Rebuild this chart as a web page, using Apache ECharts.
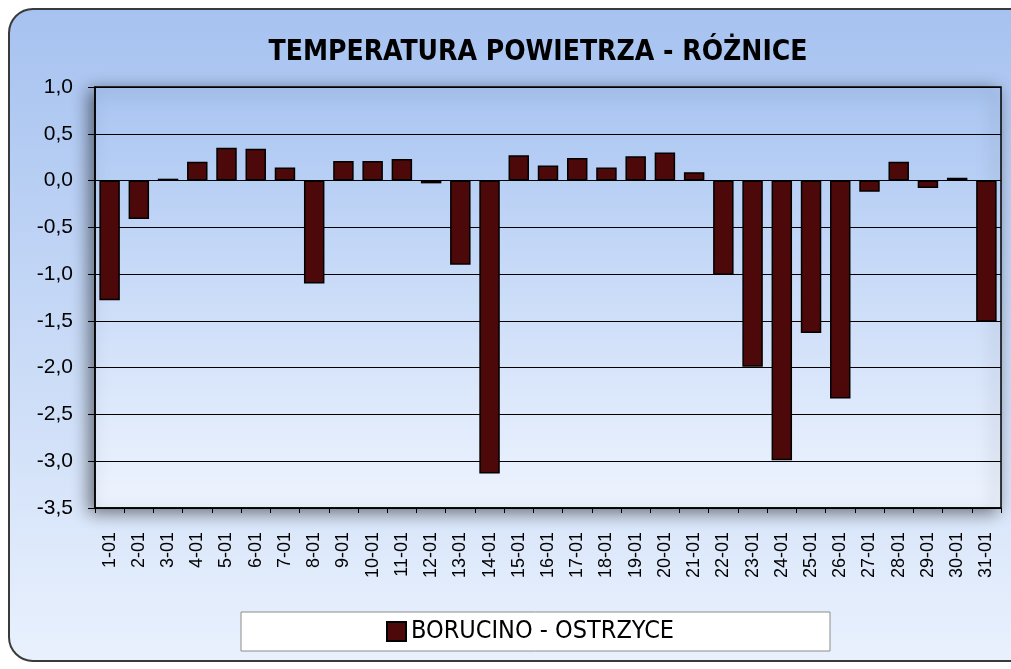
<!DOCTYPE html>
<html>
<head>
<meta charset="utf-8">
<script src="https://cdn.jsdelivr.net/npm/echarts@6/dist/echarts.min.js"></script>
<style>
  html, body { margin: 0; padding: 0; background: #fff; }
  #chart { width: 1011px; height: 669px; }
</style>
</head>
<body>
<div id="chart"></div>
<script>
// dni stycznia
var days = ['1-01', '2-01', '3-01', '4-01', '5-01', '6-01', '7-01', '8-01', '9-01', '10-01',
  '11-01', '12-01', '13-01', '14-01', '15-01', '16-01', '17-01', '18-01', '19-01', '20-01',
  '21-01', '22-01', '23-01', '24-01', '25-01', '26-01', '27-01', '28-01', '29-01', '30-01', '31-01']
// różnica temperatur Borucino - Ostrzyce
var diffs = [-1.28, -0.41, 0.02, 0.20, 0.35, 0.34, 0.14, -1.10, 0.21, 0.21,
  0.23, -0.03, -0.90, -3.13, 0.27, 0.16, 0.24, 0.14, 0.26, 0.30,
  0.09, -1.01, -1.99, -2.99, -1.63, -2.33, -0.12, 0.20, -0.08, 0.03, -1.51]
var seriesName = 'BORUCINO - OSTRZYCE'
var narrow = '"DejaVu Sans Condensed", "Liberation Sans Narrow", "Liberation Sans", Arial'

var chart = echarts.init(document.getElementById('chart'))
var option = {
  animation: false,
  graphic: [
    { // tło całego wykresu
      type: 'rect',
      z: -10,
      shape: { x: 9, y: 9, width: 1030, height: 652, r: 24 },
      style: {
        fill: new echarts.graphic.LinearGradient(0, 0, 0, 1, [
          { offset: 0, color: '#a6c2f0' },
          { offset: 1, color: '#e9f1fd' }
        ]),
        stroke: '#3a3a3a',
        lineWidth: 2
      }
    },
    { // ramka legendy
      type: 'rect',
      z: -5,
      shape: { x: 241, y: 612, width: 589, height: 39 },
      style: { fill: '#ffffff', stroke: '#8c8c8c', lineWidth: 1 }
    }
  ],
  title: {
    text: 'TEMPERATURA POWIETRZA - RÓŻNICE',
    left: 533,
    textAlign: 'center',
    top: 34,
    textStyle: {
      fontFamily: narrow,
      fontWeight: 'bold',
      fontSize: 28,
      color: '#000'
    }
  },
  legend: {
    data: [seriesName],
    left: 386,
    top: 619,
    padding: 0,
    icon: 'rect',
    itemWidth: 19,
    itemHeight: 19,
    itemGap: 8,
    textStyle: {
      fontFamily: narrow,
      fontSize: 25,
      color: '#000'
    }
  },
  grid: {
    left: 95,
    top: 87,
    width: 906,
    height: 421,
    show: true,
    borderColor: '#000',
    borderWidth: 1.5,
    backgroundColor: new echarts.graphic.LinearGradient(0, 0, 0, 1, [
      { offset: 0, color: '#a9c5f2' },
      { offset: 1, color: '#eef4fe' }
    ]),
    shadowColor: 'rgba(0,0,0,0.5)',
    shadowBlur: 16,
    shadowOffsetX: -5,
    shadowOffsetY: 4
  },
  xAxis: {
    type: 'category',
    data: days,
    position: 'bottom',
    axisLine: { onZero: false, lineStyle: { color: '#000', width: 1.5 } },
    axisTick: { show: true, length: 5, lineStyle: { color: '#000' } },
    axisLabel: {
      rotate: 90,
      interval: 0,
      margin: 24,
      color: '#000',
      fontFamily: 'Liberation Sans, Arial',
      fontSize: 18
    }
  },
  yAxis: {
    type: 'value',
    min: -3.5,
    max: 1,
    interval: 0.5,
    axisLine: { show: true, lineStyle: { color: '#000', width: 1.5 } },
    axisTick: { show: true, length: 7, lineStyle: { color: '#000' } },
    splitLine: { lineStyle: { color: '#000', width: 1 } },
    axisLabel: {
      color: '#000',
      fontFamily: 'Liberation Sans, Arial',
      fontSize: 21,
      margin: 22,
      formatter: function (v) { return v.toFixed(1).replace('.', ',') }
    }
  },
  series: [{
    name: seriesName,
    type: 'bar',
    data: diffs,
    barCategoryGap: '30%',
    itemStyle: { color: '#4d0909', borderColor: '#000', borderWidth: 1.5 }
  }]
}
chart.setOption(option)
</script>
</body>
</html>
